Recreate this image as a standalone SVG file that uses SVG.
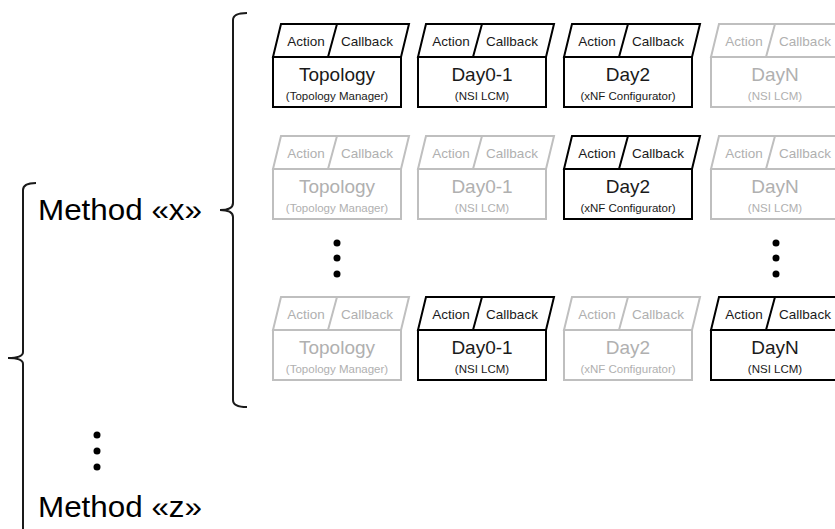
<svg xmlns="http://www.w3.org/2000/svg" width="835" height="529" viewBox="0 0 835 529">
<style>
.bg{fill:#fff}
.n path,.n rect,.n line{fill:#fff;stroke-width:2}
.on path,.on rect,.on line{stroke:#000}
.off path,.off rect,.off line{stroke:#bfbfbf}
.n text{font-family:"Liberation Sans",Arial,sans-serif;text-anchor:middle}
.on text{fill:#1a1a1a}
.off text{fill:#b0b0b0}
.ac{font-size:13.5px}
.tt{font-size:19px}
.sub{font-size:11.5px}
.brace{fill:none;stroke:#1a1a1a;stroke-width:2}
.lbl{font-family:"Liberation Sans",Arial,sans-serif;font-size:29px;fill:#000}
.dot{fill:#000}
</style>
<rect class="bg" x="0" y="0" width="835" height="529"/>

<g id="connectors">
<path class="brace" d="M247,13 Q233,13 233,20 L233,203 Q233,210 220,210 Q233,210 233,217 L233,400 Q233,407 247,407"/>
<path class="brace" d="M36,183 Q23,183 23,190 L23,352 Q23,358 8,358 Q23,358 23,364 L23,535"/>
</g>

<g id="method-x"><text class="lbl" x="38" y="220" textLength="164" lengthAdjust="spacingAndGlyphs">Method «x»</text></g>
<g id="method-z"><text class="lbl" x="38" y="517" textLength="164" lengthAdjust="spacingAndGlyphs">Method «z»</text></g>

<g id="dots-left"><circle class="dot" cx="97" cy="435" r="3.5"/><circle class="dot" cx="97" cy="451" r="3.5"/><circle class="dot" cx="97" cy="467" r="3.5"/></g>
<g id="dots-mid1"><circle class="dot" cx="337" cy="243" r="3.5"/><circle class="dot" cx="337" cy="258" r="3.5"/><circle class="dot" cx="337" cy="274" r="3.5"/></g>
<g id="dots-mid2"><circle class="dot" cx="776" cy="243" r="3.5"/><circle class="dot" cx="776" cy="258" r="3.5"/><circle class="dot" cx="776" cy="274" r="3.5"/></g>

<!-- Row 1 -->
<g id="r1-topology" class="n on" transform="translate(273,57)"><path d="M8,-33 L136,-33 L128,0 L0,0 Z"/><line x1="64" y1="-33" x2="55" y2="0"/><rect width="128" height="50"/><text class="ac" x="33" y="-11.5">Action</text><text class="ac" x="94" y="-11.5">Callback</text><text class="tt" x="64" y="24">Topology</text><text class="sub" x="64" y="43">(Topology Manager)</text></g>
<g id="r1-day01" class="n on" transform="translate(418,57)"><path d="M8,-33 L136,-33 L128,0 L0,0 Z"/><line x1="64" y1="-33" x2="55" y2="0"/><rect width="128" height="50"/><text class="ac" x="33" y="-11.5">Action</text><text class="ac" x="94" y="-11.5">Callback</text><text class="tt" x="64" y="24">Day0-1</text><text class="sub" x="64" y="43">(NSI LCM)</text></g>
<g id="r1-day2" class="n on" transform="translate(564,57)"><path d="M8,-33 L136,-33 L128,0 L0,0 Z"/><line x1="64" y1="-33" x2="55" y2="0"/><rect width="128" height="50"/><text class="ac" x="33" y="-11.5">Action</text><text class="ac" x="94" y="-11.5">Callback</text><text class="tt" x="64" y="24">Day2</text><text class="sub" x="64" y="43">(xNF Configurator)</text></g>
<g id="r1-dayn" class="n off" transform="translate(711,57)"><path d="M8,-33 L136,-33 L128,0 L0,0 Z"/><line x1="64" y1="-33" x2="55" y2="0"/><rect width="128" height="50"/><text class="ac" x="33" y="-11.5">Action</text><text class="ac" x="94" y="-11.5">Callback</text><text class="tt" x="64" y="24">DayN</text><text class="sub" x="64" y="43">(NSI LCM)</text></g>

<!-- Row 2 -->
<g id="r2-topology" class="n off" transform="translate(273,169)"><path d="M8,-33 L136,-33 L128,0 L0,0 Z"/><line x1="64" y1="-33" x2="55" y2="0"/><rect width="128" height="50"/><text class="ac" x="33" y="-11.5">Action</text><text class="ac" x="94" y="-11.5">Callback</text><text class="tt" x="64" y="24">Topology</text><text class="sub" x="64" y="43">(Topology Manager)</text></g>
<g id="r2-day01" class="n off" transform="translate(418,169)"><path d="M8,-33 L136,-33 L128,0 L0,0 Z"/><line x1="64" y1="-33" x2="55" y2="0"/><rect width="128" height="50"/><text class="ac" x="33" y="-11.5">Action</text><text class="ac" x="94" y="-11.5">Callback</text><text class="tt" x="64" y="24">Day0-1</text><text class="sub" x="64" y="43">(NSI LCM)</text></g>
<g id="r2-day2" class="n on" transform="translate(564,169)"><path d="M8,-33 L136,-33 L128,0 L0,0 Z"/><line x1="64" y1="-33" x2="55" y2="0"/><rect width="128" height="50"/><text class="ac" x="33" y="-11.5">Action</text><text class="ac" x="94" y="-11.5">Callback</text><text class="tt" x="64" y="24">Day2</text><text class="sub" x="64" y="43">(xNF Configurator)</text></g>
<g id="r2-dayn" class="n off" transform="translate(711,169)"><path d="M8,-33 L136,-33 L128,0 L0,0 Z"/><line x1="64" y1="-33" x2="55" y2="0"/><rect width="128" height="50"/><text class="ac" x="33" y="-11.5">Action</text><text class="ac" x="94" y="-11.5">Callback</text><text class="tt" x="64" y="24">DayN</text><text class="sub" x="64" y="43">(NSI LCM)</text></g>

<!-- Row 3 -->
<g id="r3-topology" class="n off" transform="translate(273,330)"><path d="M8,-33 L136,-33 L128,0 L0,0 Z"/><line x1="64" y1="-33" x2="55" y2="0"/><rect width="128" height="50"/><text class="ac" x="33" y="-11.5">Action</text><text class="ac" x="94" y="-11.5">Callback</text><text class="tt" x="64" y="24">Topology</text><text class="sub" x="64" y="43">(Topology Manager)</text></g>
<g id="r3-day01" class="n on" transform="translate(418,330)"><path d="M8,-33 L136,-33 L128,0 L0,0 Z"/><line x1="64" y1="-33" x2="55" y2="0"/><rect width="128" height="50"/><text class="ac" x="33" y="-11.5">Action</text><text class="ac" x="94" y="-11.5">Callback</text><text class="tt" x="64" y="24">Day0-1</text><text class="sub" x="64" y="43">(NSI LCM)</text></g>
<g id="r3-day2" class="n off" transform="translate(564,330)"><path d="M8,-33 L136,-33 L128,0 L0,0 Z"/><line x1="64" y1="-33" x2="55" y2="0"/><rect width="128" height="50"/><text class="ac" x="33" y="-11.5">Action</text><text class="ac" x="94" y="-11.5">Callback</text><text class="tt" x="64" y="24">Day2</text><text class="sub" x="64" y="43">(xNF Configurator)</text></g>
<g id="r3-dayn" class="n on" transform="translate(711,330)"><path d="M8,-33 L136,-33 L128,0 L0,0 Z"/><line x1="64" y1="-33" x2="55" y2="0"/><rect width="128" height="50"/><text class="ac" x="33" y="-11.5">Action</text><text class="ac" x="94" y="-11.5">Callback</text><text class="tt" x="64" y="24">DayN</text><text class="sub" x="64" y="43">(NSI LCM)</text></g>
</svg>
